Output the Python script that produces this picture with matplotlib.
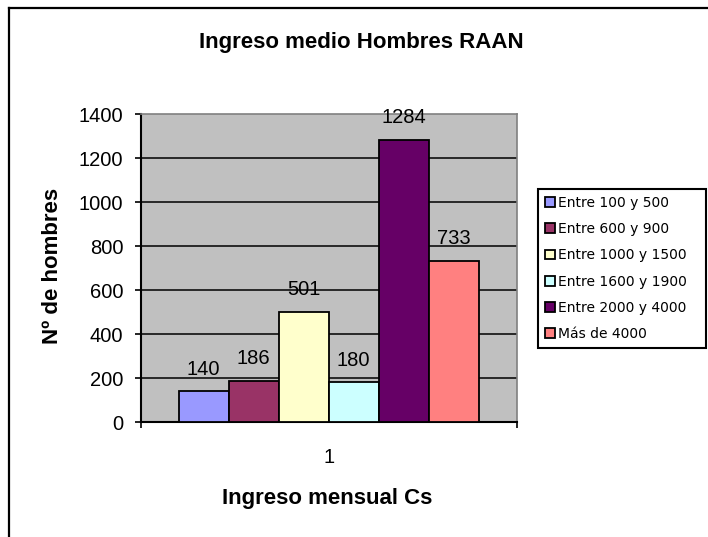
import matplotlib
matplotlib.use('Agg')
import matplotlib.pyplot as plt
from matplotlib.lines import Line2D

plt.rcParams['font.family'] = ['Liberation Sans', 'DejaVu Sans']

####### data
categories = ['Entre 100 y 500', 'Entre 600 y 900', 'Entre 1000 y 1500',
              'Entre 1600 y 1900', 'Entre 2000 y 4000', 'Más de 4000']
values = [140, 186, 501, 180, 1284, 733]
colors = ['#9999FF', '#993366', '#FFFFCC', '#CCFFFF', '#660066', '#FF8080']
yticks = [0, 200, 400, 600, 800, 1000, 1200, 1400]
xtick_labels = ['1']

W, H = 708, 537
fig = plt.figure(figsize=(W / 100, H / 100), dpi=100)

# plot area in pixels (Excel style)
ax = fig.add_axes([140.7 / W, 1 - 422 / H, 376 / W, 308 / H])
ax.set_facecolor('#C0C0C0')

bw = 50 / 376
start = 0.5 - 3 * bw
bars = []
for i, (v, c) in enumerate(zip(values, colors)):
    xc = start + (i + 0.5) * bw
    b = ax.bar(xc, v, width=bw, color=c, edgecolor='black', linewidth=1.3, zorder=3)
    bars.append(b)
    ax.annotate(str(v), (xc, v), xytext=(0, 12), textcoords='offset points',
                ha='center', va='baseline', fontsize=14.5, zorder=4)

ax.set_xlim(0, 1)
ax.set_ylim(0, 1400)

# category tick label, end ticks as minor ticks
ax.set_xticks([0.5])
ax.set_xticklabels(xtick_labels, fontsize=14.5)
ax.set_xticks([0, 1], minor=True)
ax.tick_params(axis='x', which='major', length=0, pad=18.5)
ax.tick_params(axis='x', which='minor', length=4.5, width=1.2, direction='out')

ax.set_yticks(yticks)
ax.tick_params(axis='y', length=4.5, width=1.2, pad=8, labelsize=14.5)

ax.set_axisbelow(True)
ax.yaxis.grid(True, color='black', linewidth=1.1)
ax.get_ygridlines()[-1].set_visible(False)

for s in ['left', 'bottom']:
    ax.spines[s].set_color('black')
    ax.spines[s].set_linewidth(1.5)
for s in ['top', 'right']:
    ax.spines[s].set_color('#808080')
    ax.spines[s].set_linewidth(1.2)

# titles
fig.text(361 / W, 1 - 48 / H, 'Ingreso medio Hombres RAAN', ha='center', va='baseline',
         fontsize=16, fontweight='bold')
fig.text(327 / W, 1 - 504 / H, 'Ingreso mensual Cs', ha='center', va='baseline',
         fontsize=16, fontweight='bold')
fig.text(58 / W, 1 - 266 / H, 'Nº de hombres', ha='center', va='baseline',
         rotation=90, rotation_mode='anchor', fontsize=16, fontweight='bold')

# legend box
leg = ax.legend([b[0] for b in bars], categories, loc='upper left',
                bbox_to_anchor=(538 / W, 1 - 189 / H, 168 / W, 0.0),
                bbox_transform=fig.transFigure, mode='expand', borderaxespad=0,
                fancybox=False, framealpha=1, edgecolor='black',
                prop={'family': 'DejaVu Sans', 'size': 10},
                handlelength=0.72, handleheight=0.72, handletextpad=0.25,
                labelspacing=0.88, borderpad=0.5)
leg.get_frame().set_linewidth(1.5)

# chart area border (top and left visible)
fig.add_artist(Line2D([8.5 / W, 1], [1 - 7.5 / H, 1 - 7.5 / H], transform=fig.transFigure,
                      color='black', linewidth=1.6))
fig.add_artist(Line2D([8.5 / W, 8.5 / W], [0, 1 - 7.5 / H], transform=fig.transFigure,
                      color='black', linewidth=1.6))

fig.savefig('out.png', dpi=100)
